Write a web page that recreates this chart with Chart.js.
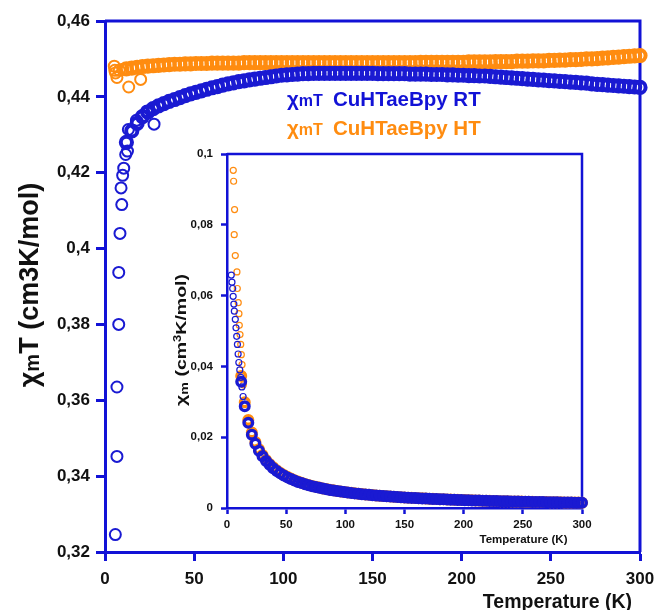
<!DOCTYPE html>
<html>
<head>
<meta charset="utf-8">
<script src="https://cdn.jsdelivr.net/npm/chart.js@4.4.1/dist/chart.umd.min.js"></script>
<style>
  html, body { margin: 0; padding: 0; background: #fff; }
  #wrap { position: relative; width: 655px; height: 610px; }
  #mainChart { position: absolute; left: 0; top: 0; }
  #insetChart { position: absolute; left: 165px; top: 145px; }
</style>
</head>
<body>
<div id="wrap">
  <canvas id="mainChart" width="655" height="610"></canvas>
  <canvas id="insetChart" width="430" height="410"></canvas>
</div>
<script>
// --- data ---
// main plot: chi_m*T (cm3K/mol) vs T (K)
const rtLowT   = [5.8, 6.7, 6.7, 7.7, 7.7, 8.4, 9.0, 9.4, 9.9, 10.5, 11.6, 12.6, 13.1, 17.6, 23.3, 27.5];
const rtLowVal = [0.3246, 0.3452, 0.3635, 0.3800, 0.3937, 0.4040, 0.4160, 0.4116, 0.4193, 0.4212, 0.4248, 0.4257, 0.4314, 0.4338, 0.4362, 0.4328];
const htLowT   = [5.2, 5.5, 5.9, 6.7, 8.0, 10.0, 13.3, 20.0];
const htLowVal = [0.4481, 0.4470, 0.4463, 0.4451, 0.4470, 0.4473, 0.4426, 0.4446];

const bandT = [
  12, 15, 18, 21, 24, 27, 30, 33, 36, 39,
  42, 45, 48, 51, 54, 57, 60, 63, 66, 69,
  72, 75, 78, 81, 84, 87, 90, 93, 96, 99,
  102, 105, 108, 111, 114, 117, 120, 123, 126, 129,
  132, 135, 138, 141, 144, 147, 150, 153, 156, 159,
  162, 165, 168, 171, 174, 177, 180, 183, 186, 189,
  192, 195, 198, 201, 204, 207, 210, 213, 216, 219,
  222, 225, 228, 231, 234, 237, 240, 243, 246, 249,
  252, 255, 258, 261, 264, 267, 270, 273, 276, 279,
  282, 285, 288, 291, 294, 297, 300
];
const rtBand = [
  .4280, .4310, .4330, .4348, .4360, .4369, .4376, .4382, .4388, .4393,
  .4398, .4403, .4408, .4412, .4416, .4420, .4424, .4427, .4431, .4434,
  .4437, .4440, .4442, .4445, .4447, .4449, .4451, .4453, .4455, .4457,
  .4458, .4459, .4460, .4461, .4461, .4462, .4462, .4462, .4462, .4462,
  .4462, .4462, .4462, .4462, .4462, .4462, .4462, .4461, .4461, .4461,
  .4461, .4461, .4461, .4460, .4460, .4460, .4460, .4459, .4459, .4459,
  .4458, .4458, .4457, .4457, .4456, .4456, .4455, .4455, .4454, .4453,
  .4452, .4451, .4450, .4449, .4448, .4447, .4446, .4445, .4444, .4443,
  .4442, .4441, .4440, .4439, .4438, .4437, .4436, .4434, .4433, .4432,
  .4431, .4430, .4429, .4428, .4427, .4426, .4425
];
const htBand = [
  .4474, .4476, .4478, .4480, .4481, .4482, .4483, .4484, .4485, .4486,
  .4486, .4487, .4487, .4488, .4488, .4488, .4489, .4489, .4489, .4489,
  .4489, .4489, .4490, .4490, .4490, .4490, .4490, .4490, .4490, .4490,
  .4490, .4490, .4490, .4490, .4490, .4490, .4490, .4490, .4490, .4490,
  .4490, .4490, .4490, .4490, .4490, .4490, .4490, .4490, .4490, .4490,
  .4490, .4490, .4490, .4490, .4490, .4491, .4491, .4491, .4491, .4491,
  .4491, .4491, .4491, .4491, .4492, .4492, .4492, .4492, .4492, .4493,
  .4493, .4493, .4493, .4494, .4494, .4494, .4495, .4495, .4495, .4496,
  .4496, .4497, .4497, .4498, .4498, .4499, .4500, .4500, .4501, .4502,
  .4503, .4504, .4505, .4506, .4507, .4508, .4509
];

// inset: chi_m (cm3K/mol) vs T (K)
const rtInsetLowT   = [3.6, 4.2, 4.8, 5.2, 5.8, 6.2, 7.0, 7.6, 8.2, 8.8, 9.4, 10.0, 10.8, 11.6, 12.6, 13.6];
const rtInsetLowVal = [0.0658, 0.0638, 0.0620, 0.0598, 0.0576, 0.0556, 0.0533, 0.0509, 0.0485, 0.0462, 0.0435, 0.0411, 0.0390, 0.0369, 0.0342, 0.0315];
const htInsetLowT   = [5.3, 5.6, 6.4, 6.1, 7.0, 8.4, 8.7, 9.5, 10.1, 10.4, 11.0, 11.6, 12.1, 12.7, 13.3, 13.8];
const htInsetLowVal = [0.0954, 0.0923, 0.0843, 0.0772, 0.0713, 0.0667, 0.0620, 0.0580, 0.0549, 0.0516, 0.0490, 0.0462, 0.0433, 0.0405, 0.0376, 0.0348];
const rtInsetBand = [
  .03567, .02873, .02406, .02070, .01817, .01618, .01459, .01328, .01219, .01126,
  .01047, .00978, .00918, .00865, .00818, .00775, .00737, .00703, .00671, .00643,
  .00616, .00592, .00569, .00549, .00529, .00511, .00495, .00479, .00464, .00450,
  .00437, .00425, .00413, .00402, .00391, .00381, .00372, .00363, .00354, .00346,
  .00338, .00331, .00323, .00316, .00310, .00304, .00297, .00292, .00286, .00281,
  .00275, .00270, .00266, .00261, .00256, .00252, .00248, .00244, .00240, .00236,
  .00232, .00229, .00225, .00222, .00218, .00215, .00212, .00209, .00206, .00203,
  .00201, .00198, .00195, .00193, .00190, .00188, .00185, .00183, .00181, .00178,
  .00176, .00174, .00172, .00170, .00168, .00166, .00164, .00162, .00161, .00159,
  .00157, .00156, .00154, .00152, .00151, .00149, .00148
];
const htInsetBand = [
  .03728, .02984, .02488, .02133, .01867, .01660, .01494, .01359, .01246, .01150,
  .01068, .00997, .00935, .00880, .00831, .00787, .00748, .00713, .00680, .00651,
  .00623, .00599, .00576, .00554, .00535, .00516, .00499, .00483, .00468, .00454,
  .00440, .00428, .00416, .00405, .00394, .00384, .00374, .00365, .00356, .00348,
  .00340, .00333, .00325, .00318, .00312, .00305, .00299, .00293, .00288, .00282,
  .00277, .00272, .00267, .00263, .00258, .00254, .00249, .00245, .00241, .00238,
  .00234, .00230, .00227, .00223, .00220, .00217, .00214, .00211, .00208, .00205,
  .00202, .00200, .00197, .00194, .00192, .00190, .00187, .00185, .00183, .00181,
  .00178, .00176, .00174, .00172, .00170, .00168, .00167, .00165, .00163, .00161,
  .00160, .00158, .00156, .00155, .00153, .00152, .00150
];

const BLUE = '#1212d6';
const PT_BLUE = '#1a1ad2';
const ORANGE = '#ff8c10';
const FONT = '"Liberation Sans", Arial, sans-serif';

function pts(xs, ys) {
  return xs.map((x, i) => ({ x: x, y: ys[i] }));
}

function commaTick(v) {
  return parseFloat(v.toFixed(2)).toString().replace('.', ',');
}

// draws a sequence of text runs (for sub/superscripts), optionally rotated / stretched
function drawRuns(ctx, runs, x, y, angle, align, stretch) {
  ctx.save();
  ctx.translate(x, y);
  ctx.rotate(angle);
  ctx.scale(stretch || 1, 1);
  ctx.textAlign = 'left';
  ctx.textBaseline = 'alphabetic';
  let total = 0;
  runs.forEach(r => {
    ctx.font = 'bold ' + r.size + 'px ' + FONT;
    r.w = ctx.measureText(r.text).width;
    total += r.w;
  });
  let cx = align === 'center' ? -total / 2 : (align === 'right' ? -total : 0);
  runs.forEach(r => {
    ctx.font = 'bold ' + r.size + 'px ' + FONT;
    ctx.fillStyle = r.color || '#111';
    ctx.fillText(r.text, cx, r.dy || 0);
    cx += r.w;
  });
  ctx.restore();
}

function frameLines(chart, width) {
  const a = chart.chartArea;
  const ctx = chart.ctx;
  ctx.save();
  ctx.strokeStyle = BLUE;
  ctx.lineWidth = width;
  ctx.beginPath();
  ctx.moveTo(a.left, a.top);
  ctx.lineTo(a.right, a.top);
  ctx.lineTo(a.right, a.bottom);
  ctx.stroke();
  ctx.restore();
}

const mainDecor = {
  id: 'mainDecor',
  beforeDatasetsDraw(chart) {
    frameLines(chart, 3);
  },
  afterDraw(chart) {
    const ctx = chart.ctx;
    const a = chart.chartArea;
    drawRuns(ctx, [
      { text: 'χ', size: 27 },
      { text: 'm', size: 20, dy: 1 },
      { text: 'T (cm3K/mol)', size: 27 }
    ], 38, 285, -Math.PI / 2, 'center');
    drawRuns(ctx, [{ text: 'Temperature (K)', size: 19.5 }], a.right - 8, 608, 0, 'right');

    drawRuns(ctx, [{ text: 'χ', size: 20.5, color: BLUE }, { text: 'mT', size: 16, color: BLUE }], 287, 106, 0, 'left');
    drawRuns(ctx, [{ text: 'CuHTaeBpy RT', size: 20.5, color: BLUE }], 333, 106, 0, 'left');
    drawRuns(ctx, [{ text: 'χ', size: 20.5, color: ORANGE }, { text: 'mT', size: 16, color: ORANGE }], 287, 135, 0, 'left');
    drawRuns(ctx, [{ text: 'CuHTaeBpy HT', size: 20.5, color: ORANGE }], 333, 135, 0, 'left');
  }
};

const insetDecor = {
  id: 'insetDecor',
  beforeDatasetsDraw(chart) {
    frameLines(chart, 2.5);
  },
  afterDraw(chart) {
    const ctx = chart.ctx;
    const a = chart.chartArea;
    drawRuns(ctx, [
      { text: 'χ', size: 15 },
      { text: 'm', size: 11, dy: 2 },
      { text: ' (cm', size: 15 },
      { text: '3', size: 10, dy: -5 },
      { text: 'K/mol)', size: 15 }
    ], a.left - 41.5, a.top + 186, -Math.PI / 2, 'center', 1.3);
    drawRuns(ctx, [{ text: 'Temperature (K)', size: 11.5 }], a.right - 58.5, a.bottom + 35, 0, 'center');
  }
};

function axisOpts(o) {
  return {
    type: 'linear',
    min: o.min,
    max: o.max,
    afterFit: s => {
      o.fit(s);
      s.paddingLeft = 0; s.paddingRight = 0; s.paddingTop = 0; s.paddingBottom = 0;
    },
    ticks: {
      stepSize: o.step,
      padding: o.pad,
      color: '#111',
      maxRotation: 0,
      autoSkip: false,
      font: { family: FONT, size: o.font, weight: 'bold' },
      callback: commaTick
    },
    grid: { drawOnChartArea: false, tickLength: o.tick, tickWidth: o.lw, tickColor: BLUE },
    border: { color: BLUE, width: o.lw }
  };
}

function scatterSet(data, color, r, bw) {
  return {
    data: data,
    showLine: false,
    pointStyle: 'circle',
    pointRadius: r,
    pointBorderWidth: bw,
    pointBorderColor: color,
    pointBackgroundColor: 'rgba(0,0,0,0)',
    clip: false
  };
}

new Chart(document.getElementById('mainChart'), {
  type: 'scatter',
  data: {
    datasets: [
      scatterSet(pts(rtLowT, rtLowVal), PT_BLUE, 5.5, 2),
      scatterSet(pts(bandT, rtBand), PT_BLUE, 5.6, 4),
      scatterSet(pts(htLowT, htLowVal), ORANGE, 5.5, 2),
      scatterSet(pts(bandT, htBand), ORANGE, 5.6, 4)
    ]
  },
  options: {
    responsive: false,
    animation: false,
    devicePixelRatio: 1,
    layout: { padding: { top: 21, right: 15, left: 0, bottom: 0 } },
    plugins: { legend: { display: false }, tooltip: { enabled: false } },
    scales: {
      x: axisOpts({ min: 0, max: 300, step: 50, pad: 8, font: 17, tick: 9, lw: 3, fit: s => { s.height = 58; } }),
      y: axisOpts({ min: 0.32, max: 0.46, step: 0.02, pad: 6, font: 17, tick: 9, lw: 3, fit: s => { s.width = 105; } })
    }
  },
  plugins: [mainDecor]
});

new Chart(document.getElementById('insetChart'), {
  type: 'scatter',
  data: {
    datasets: [
      scatterSet(pts(rtInsetLowT, rtInsetLowVal), PT_BLUE, 3, 1.2),
      scatterSet(pts(bandT, rtInsetBand), PT_BLUE, 4.3, 3.4),
      scatterSet(pts(htInsetLowT, htInsetLowVal), ORANGE, 3, 1.2),
      scatterSet(pts(bandT, htInsetBand), ORANGE, 4.3, 3.4)
    ]
  },
  options: {
    responsive: false,
    animation: false,
    devicePixelRatio: 1,
    layout: { padding: { top: 9, right: 13, left: 0, bottom: 0 } },
    plugins: { legend: { display: false }, tooltip: { enabled: false } },
    scales: {
      x: axisOpts({ min: 0, max: 300, step: 50, pad: 4, font: 11.5, tick: 6, lw: 2.5, fit: s => { s.height = 47; } }),
      y: axisOpts({ min: 0, max: 0.1, step: 0.02, pad: 8, font: 11.5, tick: 6, lw: 2.5, fit: s => { s.width = 62; } })
    }
  },
  plugins: [insetDecor]
});
</script>
</body>
</html>
